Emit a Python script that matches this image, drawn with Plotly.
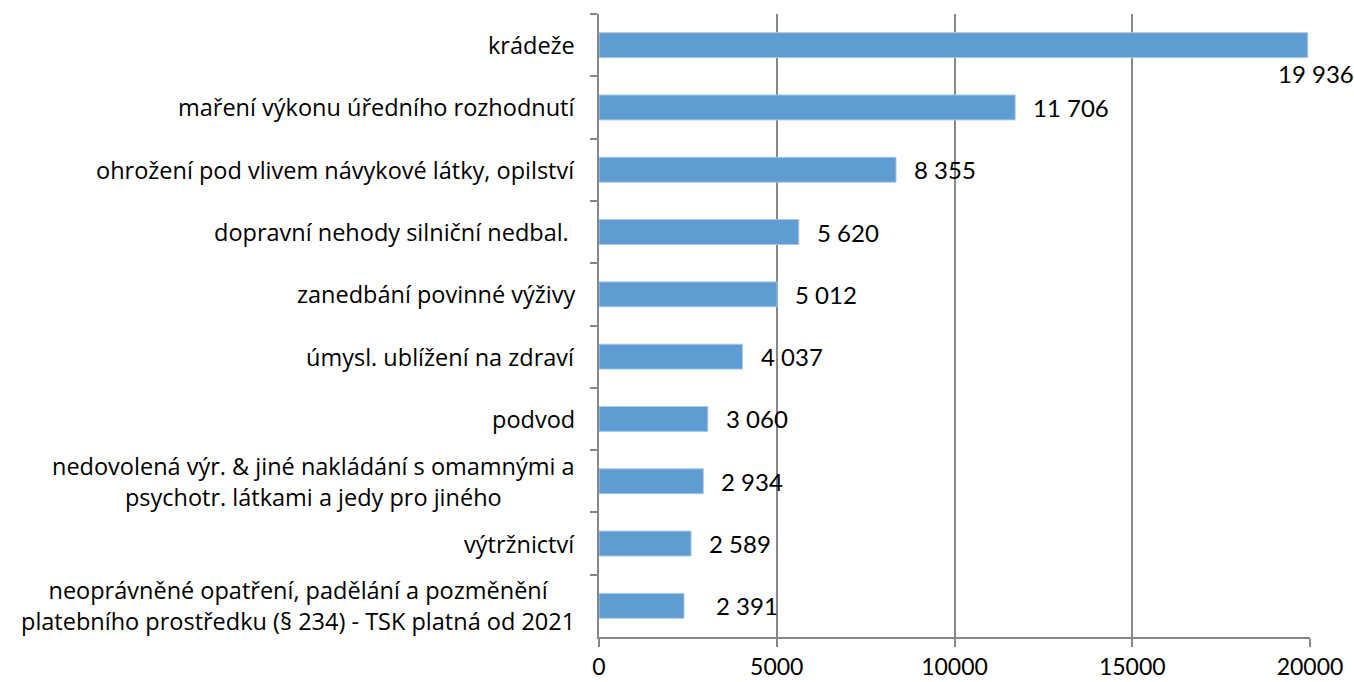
import plotly.graph_objects as go

categories = [
    "krádeže",
    "maření výkonu úředního rozhodnutí",
    "ohrožení pod vlivem návykové látky, opilství",
    "dopravní nehody silniční nedbal. ",
    "zanedbání povinné výživy",
    "úmysl. ublížení na zdraví",
    "podvod",
    "nedovolená výr. & jiné nakládání s omamnými a<br>psychotr. látkami a jedy pro jiného",
    "výtržnictví",
    "neoprávněné opatření, padělání a pozměnění<br>platebního prostředku (§ 234) - TSK platná od 2021",
]
values = [19936, 11706, 8355, 5620, 5012, 4037, 3060, 2934, 2589, 2391]
value_labels = ["19 936", "11 706", "8 355", "5 620", "5 012", "4 037", "3 060", "2 934", "2 589", "2 391"]
x_ticks = [0, 5000, 10000, 15000, 20000]

FONT = "Lato, 'Open Sans', sans-serif"
CAT_FONT = "'Open Sans', Lato, sans-serif"
GRID = "#878787"
BAR = "#5F9CD2"

fig = go.Figure()
fig.add_trace(go.Bar(
    x=values,
    y=categories,
    orientation="h",
    width=0.4,
    marker=dict(color=BAR, line=dict(color="#A9C8E8", width=1)),
    hoverinfo="x+y",
))

annotations = []
for i, (c, v, lab) in enumerate(zip(categories, values, value_labels)):
    annotations.append(dict(
        x=0, xref="paper", y=c, yref="y", text=c, showarrow=False,
        xanchor="right", yanchor="middle", align="center", xshift=-22,
        font=dict(family=CAT_FONT, size=23.5, color="#000000"),
    ))
    if i == 0:
        ann = dict(xanchor="center", xshift=8, yshift=-28)
    elif lab == "2 391":
        ann = dict(xanchor="left", xshift=30, yshift=0)
    else:
        ann = dict(xanchor="left", xshift=16, yshift=0)
    annotations.append(dict(
        x=v, xref="x", y=c, yref="y", text=lab, showarrow=False,
        yanchor="middle", font=dict(family=FONT, size=24, color="#000000"),
        **ann,
    ))

n = len(categories)
fig.update_layout(
    width=1354, height=682,
    margin=dict(l=599, r=44, t=14, b=45),
    paper_bgcolor="white", plot_bgcolor="white",
    showlegend=False,
    annotations=annotations,
    xaxis=dict(
        range=[0, 20000], tickvals=x_ticks, tickformat="d",
        showgrid=True, gridcolor=GRID, gridwidth=2,
        showline=True, linecolor=GRID, linewidth=2,
        ticks="outside", ticklen=8, tickcolor=GRID, tickwidth=2,
        zeroline=False, automargin=False,
        tickfont=dict(family=FONT, size=23, color="#000000"),
        ticklabelstandoff=0,
    ),
    yaxis=dict(
        type="category", categoryorder="array", categoryarray=categories,
        range=[n - 0.5, -0.5], autorange=False,
        showticklabels=False, automargin=False,
        showline=True, linecolor=GRID, linewidth=2,
        ticks="outside", tickson="boundaries", ticklen=7, tickcolor=GRID, tickwidth=2,
        showgrid=False, zeroline=False,
    ),
)

fig.write_html(
    "out.html",
    config={"displayModeBar": False},
    post_script="document.body.style.margin='0';document.body.style.overflow='hidden';",
)
